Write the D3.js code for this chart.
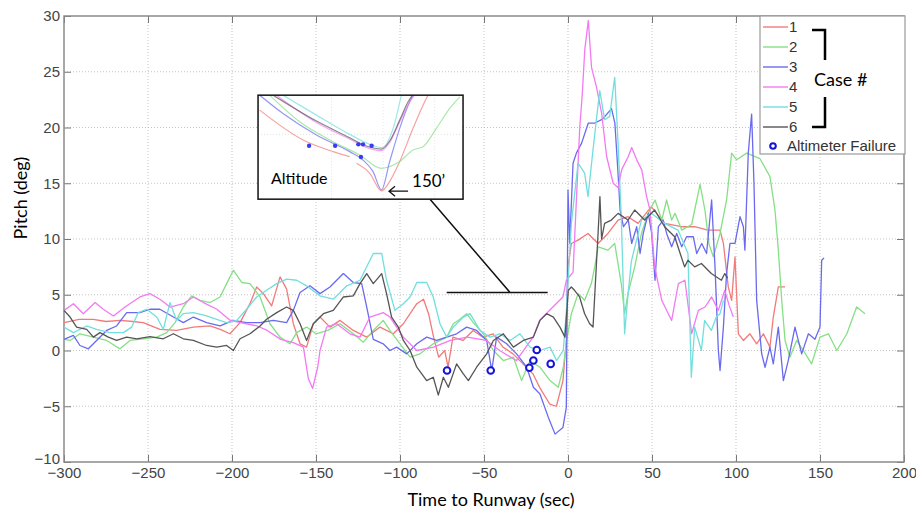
<!DOCTYPE html>
<html>
<head>
<meta charset="utf-8">
<script src="https://cdn.jsdelivr.net/npm/d3@7"></script>
<style>
  body { margin: 0; background: #fff; }
  svg { display: block; }
</style>
</head>
<body>
<svg id="chart" width="916" height="515"></svg>
<script>
// pitch traces, [time to runway (sec), pitch (deg)]
const case1 = [[-300,2.5],[-291,2.8],[-282.5,2.8],[-275,2.6],[-266.7,2.7],[-259,2.6],[-252.8,2.5],[-242.9,1.9],[-233,1.8],[-223,2.1],[-213.1,2.2],[-207,1.9],[-201.2,1.5],[-195.2,2.5],[-189.3,4.2],[-185.3,5.7],[-181.3,5.1],[-176.4,4.0],[-171.4,6.6],[-167.5,5.5],[-163.5,2.4],[-159.5,0.6],[-155.6,0.3],[-151.6,2.4],[-147.6,3.0],[-141.7,2.1],[-135.7,2.7],[-127.8,1.8],[-119.8,1.2],[-111.9,2.1],[-104,1.5],[-98,2.4],[-94,3.3],[-90,4.2],[-86,4.6],[-83,3.3],[-80,1.2],[-77,-0.6],[-73.4,0],[-71.4,-1.5],[-68.5,1.2],[-62.5,0.9],[-56.5,1.8],[-50.6,1.2],[-44.6,1.5],[-38.7,0.3],[-32.7,-0.3],[-26.8,-1.2],[-20.8,-2.1],[-16.9,-3.3],[-10.9,-4.8],[-6.9,-5.0],[-3,-2.7],[-1,0.9],[0,7.5],[2,9.6],[6,9.9],[11.9,10.5],[17.9,9.6],[23.8,10.5],[29.8,11.7],[35.7,12.0],[41.7,11.4],[49.6,12.9],[57.5,11.4],[67.5,11.1],[75.4,11.1],[83.3,10.8],[90.5,10.8],[92.5,9.6],[95.4,5.7],[97.4,4.5],[99.4,8.4],[101.4,1.5],[104.4,0.9],[108.3,1.5],[112.3,0.6],[116.3,1.5],[120.2,0.3],[122.2,3.0],[125.2,5.7],[129.2,5.7]];
const case2 = [[-300,1.0],[-296.4,0.9],[-290.5,1.5],[-282.5,1.2],[-274.6,0.9],[-266.7,0.15],[-260.7,0.9],[-252.8,1.05],[-244.8,1.2],[-238.9,1.6],[-233.9,2.5],[-229,3.9],[-224,4.9],[-219,4.5],[-213.1,4.3],[-207.1,4.8],[-203.2,6.0],[-199.2,7.2],[-194.2,6.1],[-189.3,6.0],[-183.3,4.8],[-177.4,2.4],[-171.4,1.2],[-165.5,0.6],[-161.5,1.6],[-155.6,2.1],[-150,1.5],[-143,1.8],[-135.7,2.4],[-127.8,1.5],[-121.8,0.75],[-115.9,1.8],[-110,2.7],[-106,1.8],[-100,0.6],[-94,-0.6],[-88.1,-0.3],[-80.2,0.6],[-72.2,1.2],[-68.3,2.4],[-64.3,2.8],[-60.3,3.3],[-56.4,2.5],[-50.4,1.5],[-44.4,0],[-38.5,-0.9],[-32.5,-0.6],[-27.6,-2.7],[-22.6,-0.9],[-16.7,-1.5],[-10.7,-2.7],[-5.8,-3.3],[-2.8,-1.5],[-0.8,0.9],[2,3.3],[6,5.1],[9.9,4.5],[13.9,6.0],[15.9,7.5],[17.9,9.3],[23.8,9.0],[27.8,9.6],[31.7,6.0],[33.7,3.3],[35.7,5.1],[39.7,7.5],[43.7,10.5],[47.7,12.3],[51.8,13.5],[55.8,11.7],[58.7,13.5],[61.7,11.7],[63.7,12.3],[67.7,10.8],[73.6,11.3],[78.6,14.9],[81.5,12.6],[84,9.5],[86.5,8.4],[90.5,10.5],[94.4,13.5],[97.4,17.7],[100.4,17.1],[106.3,17.7],[114.3,17.2],[120.2,15.6],[123.2,12.6],[125.2,9.0],[127.2,4.5],[129.2,0.9],[132.1,-0.6],[136.1,0.9],[140.1,0],[145,-1.2],[150,1.2],[155,1.5],[160,0],[166,1.5],[171.8,3.9],[176.8,3.3]];
const case3 = [[-300,1.0],[-294.4,1.35],[-290.5,0.45],[-285.5,0.15],[-280.6,0.9],[-274.6,1.8],[-268.7,2.2],[-262.7,3.4],[-254.8,3.4],[-248.8,3.7],[-242.9,3.7],[-234.9,3.0],[-229,2.5],[-223,3.0],[-215.1,2.5],[-207.1,2.2],[-199.2,2.7],[-191.3,2.5],[-183.3,2.5],[-175.4,2.7],[-167.5,2.5],[-163.5,3.6],[-159.5,5.2],[-153.6,5.8],[-147.6,5.1],[-141.7,5.7],[-133.7,6.9],[-127.8,6.1],[-122.8,6.0],[-119.8,3.9],[-115.9,1.0],[-110,0.6],[-106,0],[-102,0.3],[-96,-0.3],[-90,0.6],[-84.1,1.2],[-78.2,0.9],[-72.2,1.2],[-66.3,1.5],[-60.3,2.1],[-54.4,1.8],[-48.4,0.9],[-45.4,-1.8],[-42.5,1.2],[-36.5,0.6],[-30.6,-0.3],[-24.6,-1.5],[-20.6,-3.3],[-16.7,-3.9],[-11.7,-6.0],[-7.7,-7.5],[-3,-6.9],[-1,-5.1],[0,14.4],[1,9.6],[3,16.8],[5,17.7],[8.1,18.6],[12.1,20.4],[16,20.4],[20,20.7],[22,21.0],[25.9,21.7],[27.9,20.4],[29.9,15.6],[31,12.6],[33,11.1],[35.9,11.7],[37.9,9.6],[40.9,11.1],[42.9,8.7],[44.8,10.5],[47.8,12.3],[49.8,10.5],[51.8,6.3],[53.8,11.1],[56.7,11.7],[58.7,10.5],[61.7,9.3],[64.7,10.5],[67.7,9.3],[70.6,10.2],[74.6,10.2],[76.6,8.7],[79.6,9.6],[82.5,8.7],[85.5,13.5],[87.5,7.5],[89.5,0],[90.5,-1.8],[92.5,2.1],[94.4,6.9],[96.4,9.6],[99.4,9.6],[102.4,12.0],[104.4,11.1],[105.3,9.0],[107.3,17.7],[109.3,21.2],[110.7,15.0],[112.3,4.5],[115.3,-0.3],[117.3,-1.5],[120.2,0.3],[122.2,-1.2],[125.2,2.1],[128.2,-2.7],[131.1,-0.9],[135.1,2.1],[139.1,-0.3],[143.1,1.5],[147,1.0],[150,2.1],[151,8.1],[152.4,8.3]];
const case4 = [[-300,3.6],[-294.4,4.2],[-288.5,3.3],[-281.5,4.3],[-276.6,3.7],[-270.6,3.1],[-263.7,3.9],[-254.8,4.8],[-248.8,5.1],[-242.9,4.6],[-236.9,3.9],[-229,4.2],[-223,4.8],[-217,4.3],[-209,3.7],[-201,2.7],[-195,2.5],[-185,2.2],[-179,1.8],[-171,1.0],[-163.5,0.7],[-157.5,0.3],[-154.6,-2.5],[-152,-3.4],[-149,-1.5],[-147.6,0],[-143.7,2.1],[-137.7,2.4],[-129.8,1.5],[-123.8,1.2],[-117.9,3.0],[-110,3.4],[-106,3.0],[-98,1.2],[-90,0],[-80,0.3],[-70,0.9],[-60,1.2],[-48.6,0.9],[-40.7,0],[-30.8,-0.9],[-20.8,1.2],[-16.9,2.7],[-9,3.9],[-3,4.8],[-1,6.3],[3,7],[5,13.5],[7,20],[8.5,23],[10,27],[12.1,29.6],[14,25.4],[17,23.6],[20,21.3],[23,17.4],[26.9,15.0],[29.9,14.6],[31.9,16.2],[35.9,17.4],[37.9,18.2],[40.9,17.1],[43.9,16.2],[46.8,13.8],[48.8,12.6],[51.6,7.5],[55.8,4.5],[59.7,3.3],[61.7,2.7],[65.7,6.0],[69.6,6.3],[73.6,1.5],[77.6,3.6],[81.6,3.9],[85.5,4.8],[89.5,3.6],[93.3,5.4],[96,4.0],[98.4,3.0]];
const case5 = [[-300,2.1],[-294.4,1.6],[-286.5,2.2],[-280.6,1.9],[-272.6,1.6],[-264.7,1.6],[-259.7,2.1],[-255.8,3.4],[-250.8,3.7],[-244.8,3.0],[-240.9,1.9],[-236.9,4.3],[-233,2.7],[-229,3.3],[-223,3.4],[-215.1,3.1],[-209.1,2.8],[-203.2,2.5],[-197.2,2.7],[-191.3,3.7],[-185.3,4.8],[-179.4,5.4],[-173.4,6.0],[-167.5,6.4],[-161.5,6.3],[-155.6,5.8],[-147.6,4.9],[-139.7,4.6],[-131.7,5.8],[-123.8,6.3],[-117.9,8.1],[-115.9,8.7],[-110.9,8.7],[-108,6.3],[-103,3.6],[-98,4.2],[-94,4.8],[-90,6.1],[-84.1,6.1],[-80.2,4.8],[-76.2,2.4],[-72.2,1.2],[-68.3,2.1],[-62.3,3.0],[-58.3,3.3],[-52.4,1.8],[-46.4,1.2],[-40.5,1.5],[-34.5,0.9],[-28.6,1.5],[-22.6,0.3],[-16.7,0],[-10.7,0.3],[-6.8,-0.9],[-2.8,0],[-0.8,3.9],[2,11.4],[6,16.8],[9.9,15.9],[11.9,13.8],[14.9,18.0],[16.9,20.7],[18.9,23.3],[21.8,20.7],[24.8,21.0],[27.8,24.5],[29.8,18.6],[31.7,12.0],[33.7,1.5],[35.7,5],[37.7,8],[43.7,11.7],[49.6,12.3],[57.5,11.4],[65.5,10.8],[71.4,8.7],[73.4,-2.4],[75.4,2.1],[79.4,0],[81.3,2.7],[85.3,1.8],[88.3,3.0],[90.5,3.3],[92.5,4.5]];
const case6 = [[-300,3.6],[-296.4,3.0],[-292.5,2.1],[-286.5,1.9],[-282.5,1.2],[-278.6,1.6],[-273.6,1.2],[-268.7,0.9],[-262.7,1.2],[-256.7,1.05],[-248.8,1.25],[-240.9,1.05],[-234.9,1.5],[-229,1.05],[-223,0.9],[-215.1,0.45],[-209.1,0.3],[-203.2,0.45],[-199.2,0],[-195.2,1.05],[-189.3,1.5],[-183.3,2.2],[-179.4,2.8],[-173.4,3.4],[-167.5,3.9],[-163.5,3.6],[-159.5,2.4],[-155.6,0.9],[-151.6,2.4],[-145.6,3.3],[-139.7,3.6],[-133.7,4.8],[-127.8,4.9],[-123.8,6.0],[-119.8,6.9],[-115.9,6.0],[-110.9,6.9],[-108,5.1],[-105,3.0],[-101,2.1],[-98,0.9],[-94,0],[-90,-1.5],[-84.1,-2.7],[-80.2,-2.4],[-77.2,-4.0],[-74.2,-2.4],[-71.2,-3.3],[-66.3,-1.2],[-62.3,-2.1],[-59.3,-2.7],[-54.4,-1.5],[-48.4,-0.3],[-44.4,0.9],[-38.5,1.5],[-32.5,0.3],[-26.6,0.9],[-20.6,1.2],[-16.7,2.7],[-12.7,3.3],[-8.7,3.0],[-4.8,2.1],[-1.8,1.2],[0.2,5.4],[2,5.7],[3.9,5.4],[6.9,4.8],[9.9,3.3],[12.9,2.4],[14.9,2.1],[17.9,10.5],[19,13.8],[20,10],[21.8,11.4],[25.8,11.7],[29.8,12.3],[35.7,11.7],[39.7,12.6],[45.6,11.7],[51.6,12.6],[57.5,11.1],[63.5,10.2],[69.4,7.5],[71.4,8.1],[75.4,7.5],[79.4,7.8],[85.3,6.9],[91.3,6.3],[93.3,6.9],[95,6.5]];

const caseNames = ['1', '2', '3', '4', '5', '6'];
const caseColors = ['#f27a7a', '#85e085', '#6a6af0', '#f27af2', '#72dede', '#555555'];

// altimeter failure points
const failures = [[-72,-1.8],[-46,-1.8],[-23,-1.55],[-20.6,-0.9],[-18.6,0.05],[-10.3,-1.2]];

const xTicks = [-300, -250, -200, -150, -100, -50, 0, 50, 100, 150, 200];
const yTicks = [-10, -5, 0, 5, 10, 15, 20, 25, 30];

// inset: altitude profiles near the minimum (arbitrary units 0-100)
const inset1 = [[0.8,85.6],[22,56.9],[36.6,45.7],[44.7,40.9],null,[48,34.5],[54.5,24.9],[60.2,8.0],[64.2,16.9],[69.1,36.1],[75.6,68.1],[80.5,90.4],[82.9,100]];
const inset2 = [[5.7,100],[20.3,74.4],[36.6,55.3],[49.6,42.5],[60.2,29.7],[69.1,36.1],[75.6,47.3],[80.5,50.5],[87,68.1],[93.5,87.2],[98.4,98.4]];
const inset3 = [[0.8,100],[12.2,82.4],[28.5,61.7],[44.7,45.7],[51.2,37.7],[56.1,26.5],[60.2,8.9],[64.2,36.1],[69.1,68.1],[74,93.6],[75.6,100]];
const inset4 = [[8.9,100],[28.5,73.8],[44.7,57.8],[52.8,49.8],[60.2,46.6],[64.2,54.6],[69.1,74.4],[74,93.6],[76.4,100]];
const inset5 = [[12.2,100],[28.5,80.8],[44.7,62.3],[54.5,52.7],[60.2,49.5],[65.9,68.1],[69.9,100]];
const inset6 = [[7.3,100],[28.5,75.1],[44.7,59.1],[52.8,51.1],[60.2,48.2],[64.2,55.9],[69.1,76],[73.2,93.6],[75.3,100]];
const insetFailures = [[24.9,51.4],[37.6,51.4],[48.9,52.7],[51.2,52.7],[55.4,51.4],[50.2,40.6]];
const insetGridX = [35.8, 61, 86.2];
const insetGridY = [62.3];

const cases = [case1, case2, case3, case4, case5, case6];
const insetCases = [inset1, inset2, inset3, inset4, inset5, inset6];

const plot = { left: 64, right: 904, top: 16, bottom: 462 };
const tickFont = '"Liberation Sans", Arial, sans-serif';
const labelFont = 'Lato, "Open Sans", sans-serif';

const svg = d3.select('#chart');

const x = d3.scaleLinear().domain([-300, 200]).range([plot.left, plot.right]);
const y = d3.scaleLinear().domain([-10, 30]).range([plot.bottom, plot.top]);

// dotted grid
const grid = svg.append('g').attr('stroke', '#c4c4c4').attr('stroke-dasharray', '1,2');
grid.selectAll('.gx').data(xTicks.slice(1, -1)).join('line')
  .attr('x1', d => x(d)).attr('x2', d => x(d))
  .attr('y1', plot.top).attr('y2', plot.bottom);
grid.selectAll('.gy').data(yTicks.slice(1, -1)).join('line')
  .attr('x1', plot.left).attr('x2', plot.right)
  .attr('y1', d => y(d)).attr('y2', d => y(d));

// inward ticks on all four sides
const styleAxis = g => {
  g.select('.domain').remove();
  g.selectAll('.tick line').attr('stroke', '#777');
  g.selectAll('.tick text').attr('fill', '#444')
    .style('font-family', tickFont).style('font-size', '15px');
};
svg.append('g').attr('transform', `translate(0,${plot.bottom})`)
  .call(d3.axisBottom(x).tickValues(xTicks).tickSize(-7).tickPadding(5))
  .call(styleAxis);
svg.append('g').attr('transform', `translate(${plot.left},0)`)
  .call(d3.axisLeft(y).tickValues(yTicks).tickSize(-7).tickPadding(4))
  .call(styleAxis)
  // lowest label sits just above the x-axis corner label, as in MATLAB
  .call(g => g.selectAll('.tick text').filter(d => d === -10).attr('dy', '0.12em'));
svg.append('g').attr('transform', `translate(0,${plot.top})`)
  .call(d3.axisTop(x).tickValues(xTicks).tickSize(-7).tickFormat(''))
  .call(styleAxis);
svg.append('g').attr('transform', `translate(${plot.right},0)`)
  .call(d3.axisRight(y).tickValues(yTicks).tickSize(-7).tickFormat(''))
  .call(styleAxis);

svg.append('rect')
  .attr('x', plot.left).attr('y', plot.top)
  .attr('width', plot.right - plot.left).attr('height', plot.bottom - plot.top)
  .attr('fill', 'none').attr('stroke', '#8a8a8a').attr('stroke-width', 1.5);

// traces
const line = d3.line().x(d => x(d[0])).y(d => y(d[1])).curve(d3.curveLinear);
svg.append('g').selectAll('path').data(cases).join('path')
  .attr('d', line)
  .attr('fill', 'none')
  .attr('stroke', (d, i) => caseColors[i])
  .attr('stroke-width', 1.3)
  .attr('stroke-linejoin', 'round');

svg.append('g').selectAll('circle').data(failures).join('circle')
  .attr('cx', d => x(d[0])).attr('cy', d => y(d[1])).attr('r', 3.3)
  .attr('fill', '#fff').attr('stroke', '#1414d8').attr('stroke-width', 2);

// callout line from inset to the 150 ft point
svg.append('path')
  .attr('d', `M${x(-82)},${y(13.55)}L${x(-34.5)},${y(5.2)}M${x(-72.2)},${y(5.2)}L${x(-12.1)},${y(5.2)}`)
  .attr('fill', 'none').attr('stroke', '#111').attr('stroke-width', 1.5);

// inset
const inset = { x0: -184.5, y0: 22.9, w: 205, h: 104 };
const ig = svg.append('g').attr('transform', `translate(${x(inset.x0)},${y(inset.y0)})`);
const ix = d3.scaleLinear().domain([0, 100]).range([0, inset.w]);
const iy = d3.scaleLinear().domain([0, 100]).range([inset.h, 0]);

ig.append('clipPath').attr('id', 'insetClip')
  .append('rect').attr('width', inset.w).attr('height', inset.h);
ig.append('rect').attr('width', inset.w).attr('height', inset.h).attr('fill', '#fff');

const ib = ig.append('g').attr('clip-path', 'url(#insetClip)');
ib.selectAll('.igx').data(insetGridX).join('line')
  .attr('x1', d => ix(d)).attr('x2', d => ix(d)).attr('y1', 0).attr('y2', inset.h)
  .attr('stroke', '#e2e2e2').attr('stroke-dasharray', '1,2');
ib.selectAll('.igy').data(insetGridY).join('line')
  .attr('x1', 0).attr('x2', inset.w).attr('y1', d => iy(d)).attr('y2', d => iy(d))
  .attr('stroke', '#e2e2e2').attr('stroke-dasharray', '1,2');

const iline = d3.line().defined(d => d !== null).x(d => ix(d[0])).y(d => iy(d[1])).curve(d3.curveMonotoneX);
ib.selectAll('path.il').data(insetCases).join('path')
  .attr('d', iline)
  .attr('fill', 'none')
  .attr('stroke', (d, i) => caseColors[i])
  .attr('stroke-opacity', 0.7)
  .attr('stroke-width', 1.2);
ib.selectAll('circle').data(insetFailures).join('circle')
  .attr('cx', d => ix(d[0])).attr('cy', d => iy(d[1])).attr('r', 2.2)
  .attr('fill', '#3b3bf0');

ig.append('rect').attr('width', inset.w).attr('height', inset.h)
  .attr('fill', 'none').attr('stroke', '#111').attr('stroke-width', 1.5);
ig.append('text').attr('x', 13).attr('y', 89)
  .style('font-family', labelFont).style('font-size', '16px').text('Altitude');
ig.append('text').attr('x', 154).attr('y', 92)
  .style('font-family', labelFont).style('font-size', '17px').text('150\u2019');
ig.append('path').attr('d', 'M150,96H131M137,91L131,96L137,101')
  .attr('fill', 'none').attr('stroke', '#111').attr('stroke-width', 1.3);

// legend
const lg = svg.append('g').attr('transform', 'translate(760,16)');
lg.append('rect').attr('width', 145).attr('height', 138)
  .attr('fill', '#fff').attr('stroke', '#9a9a9a').attr('stroke-width', 1.2);
const items = lg.selectAll('.item').data(caseNames).join('g')
  .attr('transform', (d, i) => `translate(0,${11 + i * 20})`);
items.append('line').attr('x1', 3).attr('x2', 28)
  .attr('stroke', (d, i) => caseColors[i]).attr('stroke-width', 1.4);
items.append('text').attr('x', 29).attr('dy', '0.36em')
  .attr('fill', '#333').style('font-family', tickFont).style('font-size', '15px')
  .text(d => d);
lg.append('circle').attr('cx', 13).attr('cy', 130).attr('r', 2.8)
  .attr('fill', '#fff').attr('stroke', '#1414d8').attr('stroke-width', 2);
lg.append('text').attr('x', 27).attr('y', 130).attr('dy', '0.36em')
  .attr('fill', '#333').style('font-family', tickFont).style('font-size', '15px')
  .text('Altimeter Failure');

// bracket for "Case #"
lg.append('path').attr('d', 'M52,14H65V44M52,111H65V81')
  .attr('fill', 'none').attr('stroke', '#000').attr('stroke-width', 2.5);
lg.append('text').attr('x', 54).attr('y', 70)
  .style('font-family', labelFont).style('font-size', '18px').text('Case #');

// axis titles
svg.append('text').attr('x', 491).attr('y', 506).attr('text-anchor', 'middle')
  .style('font-family', labelFont).style('font-size', '18px')
  .text('Time to Runway (sec)');
svg.append('text').attr('transform', 'translate(27,198) rotate(-90)').attr('text-anchor', 'middle')
  .style('font-family', labelFont).style('font-size', '18px')
  .text('Pitch (deg)');
</script>
</body>
</html>
